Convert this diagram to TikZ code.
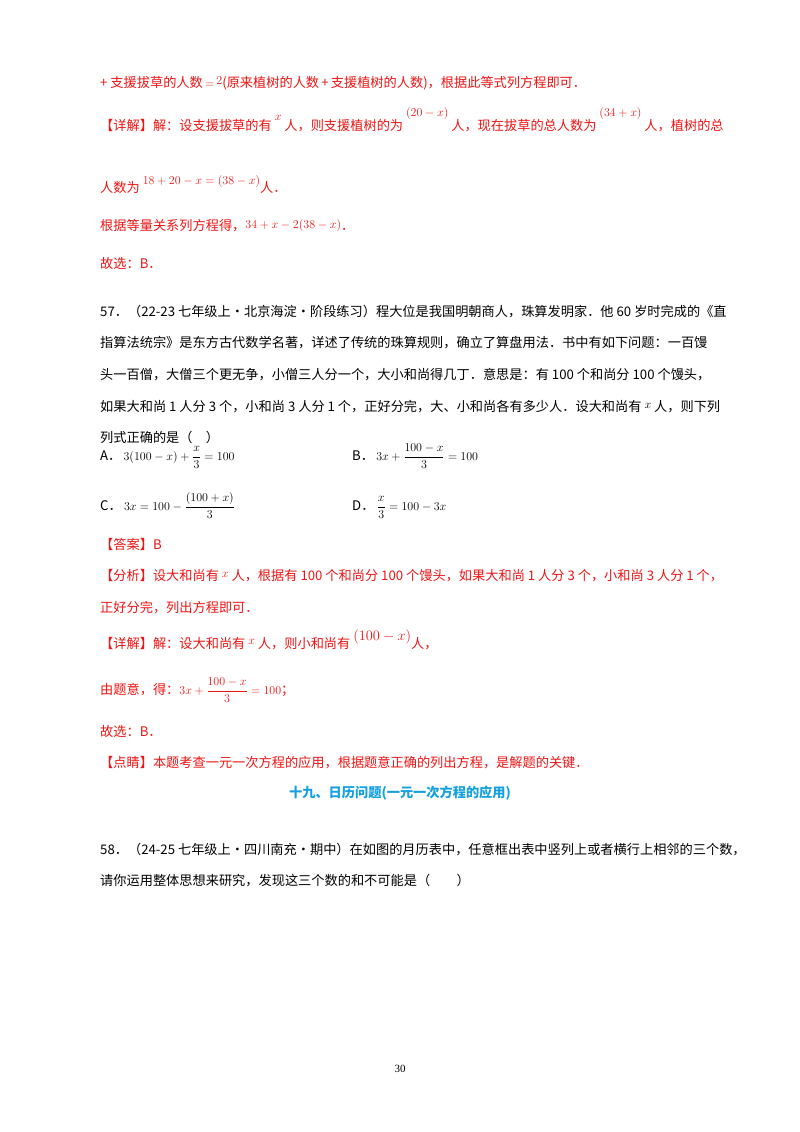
\documentclass[tikz,border=0pt]{standalone}
\usepackage{amsmath}
\usepackage{fontspec}
\setmainfont{Liberation Serif}
\newfontfamily\cjk{Noto Sans CJK SC}
\definecolor{ared}{RGB}{240,20,20}
\definecolor{ablue}{RGB}{20,160,225}
\newcommand{\up}[2][7pt]{\raisebox{#1}{\fontsize{13}{13}\selectfont$#2$}}
\begin{document}
\begin{tikzpicture}[x=1pt,y=-1pt,
  tl/.style={anchor=base west,inner sep=0pt,font=\cjk\fontsize{13.2}{15}\selectfont},
  rl/.style={tl,text=ared}]
\useasboundingbox (0,0) rectangle (800,1132);
\fill[white] (0,0) rectangle (800,1132);
\node[rl] (l1) at (100,88) {+ 支援拔草的人数\,$=$\,\up[3pt]{2}(原来植树的人数\,+\,支援植树的人数)，根据此等式列方程即可．};
\node[rl] (l2) at (100,130) {【详解】解：设支援拔草的有 \up[10pt]{x} 人，则支援植树的为 \up[14pt]{(20-x)} 人，现在拔草的总人数为 \up[14pt]{(34+x)} 人，植树的总};
\node[rl] (l3) at (100,192) {人数为 \up[8pt]{18+20-x=\left(38-x\right)}人．};
\node[rl] (l4) at (100,230) {根据等量关系列方程得，\up[2pt]{34+x-2(38-x)}．};
\node[rl] (l5) at (100,268) {故选：B．};
\node[tl] (q1) at (100,316) {57．（22-23 七年级上·北京海淀·阶段练习）程大位是我国明朝商人，珠算发明家．他 60 岁时完成的《直};
\node[tl] (q2) at (100,347) {指算法统宗》是东方古代数学名著，详述了传统的珠算规则，确立了算盘用法．书中有如下问题：一百馒};
\node[tl] (q3) at (100,379) {头一百僧，大僧三个更无争，小僧三人分一个，大小和尚得几丁．意思是：有 100 个和尚分 100 个馒头，};
\node[tl] (q4) at (100,411) {如果大和尚 1 人分 3 个，小和尚 3 人分 1 个，正好分完，大、小和尚各有多少人．设大和尚有 \up[3pt]{x} 人，则下列};
\node[tl] (q5) at (100,442) {列式正确的是（\quad ）};
\node[tl] (oA) at (100,460) {A．\,$3(100-x)+\dfrac{x}{3}=100$};
\node[tl] (oB) at (352,460) {B．\,$3x+\dfrac{100-x}{3}=100$};
\node[tl] (oC) at (100,510) {C．\,$3x=100-\dfrac{(100+x)}{3}$};
\node[tl] (oD) at (352,510) {D．\,$\dfrac{x}{3}=100-3x$};
\node[rl] (a1) at (100,549) {【答案】B};
\node[rl] (a2) at (100,580) {【分析】设大和尚有 \up[3pt]{x} 人，根据有 100 个和尚分 100 个馒头，如果大和尚 1 人分 3 个，小和尚 3 人分 1 个，};
\node[rl] (a3) at (100,612) {正好分完，列出方程即可．};
\node[rl] (a4) at (100,648) {【详解】解：设大和尚有 \up[4pt]{x} 人，则小和尚有 \raisebox{8pt}{\fontsize{14}{14}\selectfont$\left(100-x\right)$}人，};
\node[rl] (a5) at (100,694) {由题意，得：$3x+\dfrac{100-x}{3}=100$；};
\node[rl] (a6) at (100,736) {故选：B．};
\node[rl] (a7) at (100,767) {【点睛】本题考查一元一次方程的应用，根据题意正确的列出方程，是解题的关键．};
\node[tl,anchor=base,text=ablue,font=\cjk\bfseries\fontsize{13.2}{15}\selectfont] (h) at (400,797) {十九、日历问题(一元一次方程的应用)};
\node[tl] (p1) at (100,854) {58．（24-25 七年级上·四川南充·期中）在如图的月历表中，任意框出表中竖列上或者横行上相邻的三个数，};
\node[tl] (p2) at (100,885) {请你运用整体思想来研究，发现这三个数的和不可能是（\qquad ）};
\node[anchor=base,inner sep=0pt,font=\fontsize{11}{12}\selectfont] (pg) at (400,1072) {30};
\end{tikzpicture}
\end{document}
